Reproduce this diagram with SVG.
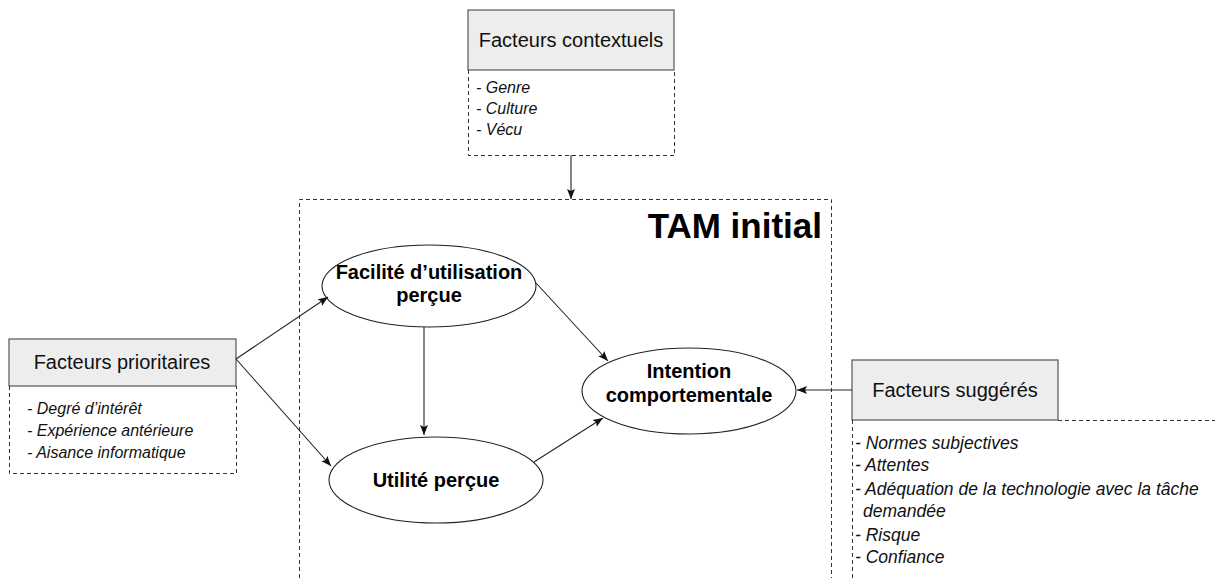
<svg xmlns="http://www.w3.org/2000/svg" width="1215" height="578" viewBox="0 0 1215 578">
<style>
.hdr{fill:#ededed;stroke:#555;stroke-width:1.2}
.dash{fill:none;stroke:#333;stroke-width:1;stroke-dasharray:4 3}
.ell{fill:#fff;stroke:#222;stroke-width:1.1}
.h{font-family:"Liberation Sans",Arial,sans-serif;font-size:20px;fill:#111;text-anchor:middle}
.li{font-family:"Liberation Sans",Arial,sans-serif;font-size:16px;font-style:italic;fill:#111}
.ls{font-size:17.5px}
.b{font-family:"Liberation Sans",Arial,sans-serif;font-size:20px;font-weight:bold;fill:#000;text-anchor:middle}
.con{fill:none;stroke:#222;stroke-width:1.1;marker-end:url(#ah)}
</style>
<defs>
<marker id="ah" markerUnits="userSpaceOnUse" markerWidth="10" markerHeight="10" viewBox="0 0 10 10" refX="10" refY="5" orient="auto">
<path d="M0,1 L10,5 L0,9 L2,5 Z" fill="#111"/>
</marker>
</defs>
<g id="tam">
<path class="dash" d="M299.5,578 V199.5 H831.5 V578"/>
<text x="822" y="238" font-family="Liberation Sans,Arial,sans-serif" font-size="35" font-weight="bold" text-anchor="end" fill="#000">TAM initial</text>
</g>
<g id="contextuels">
<rect class="hdr" x="468" y="10" width="206" height="60"/>
<path class="dash" d="M468.5,70 V155.5 H674.5 V70"/>
<text class="h" x="571" y="47">Facteurs contextuels</text>
<text class="li" x="476" y="93">- Genre</text>
<text class="li" x="476" y="114">- Culture</text>
<text class="li" x="476" y="135">- Vécu</text>
</g>
<g id="prioritaires">
<rect class="hdr" x="9" y="339" width="227" height="47"/>
<path class="dash" d="M9.5,386 V473.5 H236.5 V386"/>
<text class="h" x="122" y="369">Facteurs prioritaires</text>
<text class="li" x="27" y="414">- Degré d’intérêt</text>
<text class="li" x="27" y="436">- Expérience antérieure</text>
<text class="li" x="27" y="458">- Aisance informatique</text>
</g>
<g id="suggeres">
<rect class="hdr" x="852" y="360" width="206" height="60"/>
<path class="dash" d="M852.5,420 V578 M1058,420.5 H1215"/>
<text class="h" x="955" y="397">Facteurs suggérés</text>
<text class="li ls" x="855" y="449">- Normes subjectives</text>
<text class="li ls" x="855" y="471">- Attentes</text>
<text class="li ls" x="855" y="495">- Adéquation de la technologie avec la tâche</text>
<text class="li ls" x="863" y="517">demandée</text>
<text class="li ls" x="855" y="541">- Risque</text>
<text class="li ls" x="855" y="563">- Confiance</text>
</g>
<g id="facilite">
<ellipse class="ell" cx="429" cy="286" rx="107" ry="41"/>
<text class="b" x="429" y="279">Facilité d’utilisation</text>
<text class="b" x="429" y="302">perçue</text>
</g>
<g id="utilite">
<ellipse class="ell" cx="436" cy="480" rx="107" ry="43"/>
<text class="b" x="436" y="487">Utilité perçue</text>
</g>
<g id="intention">
<ellipse class="ell" cx="689" cy="391" rx="107" ry="43"/>
<text class="b" x="689" y="378">Intention</text>
<text class="b" x="689" y="402">comportementale</text>
</g>
<g id="connectors">
<line class="con" x1="571" y1="155" x2="571" y2="199"/>
<line class="con" x1="236" y1="359" x2="328" y2="297"/>
<line class="con" x1="236" y1="359" x2="331" y2="466"/>
<line class="con" x1="424" y1="327" x2="424" y2="435"/>
<line class="con" x1="536" y1="283" x2="608" y2="361"/>
<line class="con" x1="534" y1="462" x2="603" y2="418"/>
<line class="con" x1="852" y1="390" x2="797" y2="390"/>
</g>
</svg>
